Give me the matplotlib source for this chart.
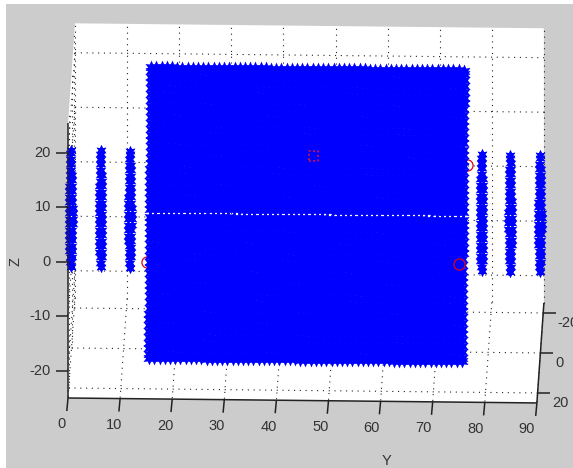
import numpy as np
import matplotlib
matplotlib.use("Agg")
import matplotlib.pyplot as plt
from matplotlib.patches import Polygon, Rectangle

plt.rcParams['font.family'] = ['Liberation Sans', 'DejaVu Sans']

# axis ranges and ticks
y_lim = [0, 90]
x_lim = [-25, 25]
z_lim = [-25, 25.4]
y_ticks = [0, 10, 20, 30, 40, 50, 60, 70, 80, 90]
z_ticks = [-20, -10, 0, 10, 20]
x_ticks = [-20, 0, 20]

# big block of points (columns along Y, rows as z / x pairs)
cloud_y = [15.1, 16.1, 17.1, 18.1, 19.1, 20.1, 21.1, 22.1, 23.1, 24.1, 25.1, 26.1, 27.1, 28.1, 29.1, 30.1,
           31.1, 32.1, 33.1, 34.1, 35.1, 36.1, 37.1, 38.1, 39.1, 40.1, 41.1, 42.1, 43.1, 44.1, 45.1, 46.1,
           47.1, 48.1, 49.1, 50.1, 51.1, 52.1, 53.1, 54.1, 55.1, 56.1, 57.1, 58.1, 59.1, 60.1, 61.1, 62.1,
           63.1, 64.1, 65.1, 66.1, 67.1, 68.1, 69.1, 70.1, 71.1, 72.1, 73.1, 74.1, 75.1]
cloud_z_up = [0.67, 1.5, 2.4, 3.4, 4.3, 5.3, 6.2, 7.2, 8.2, 9.1, 10.1, 11.0, 12.0, 12.9, 13.9, 14.9,
              15.8, 16.8, 17.7, 18.7, 19.6, 20.6, 21.6, 22.5, 23.5, 24.1]
cloud_x_up = [-0.2, -0.4, -0.7, -1.0, -1.2, -1.5, -1.8, -2.1, -2.4, -2.6, -2.9, -3.2, -3.5, -3.7, -4.0, -4.3,
              -4.6, -4.9, -5.1, -5.4, -5.7, -6.0, -6.3, -6.5, -6.8, -7.0]

# six thin stripes either side of the block
stripe_y = [0.45, 6.2, 11.8, 79.3, 84.8, 90.5]
stripe_z = [19.6, 19.0, 18.0, 17.0, 16.0, 15.0, 14.0, 13.0, 12.0, 11.0, 10.0, 9.0, 8.0, 7.0, 6.0,
            5.0, 4.0, 3.0, 2.0, 1.0, 0.0, -1.0, -1.9]
stripe_w = [0.0, 0.05, 0.1, 0.15, 0.15, 0.2, 0.2, 0.25, 0.25, 0.3, 0.3, 0.35, 0.35, 0.35, 0.35,
            0.3, 0.3, 0.3, 0.25, 0.25, 0.2, 0.1, 0.0]
stripe_x = 22.5

# red markers
circle_front_y = [74.4]
circle_front_z = [-8.8]
circle_back_y = [14.5, 75.9]
circle_back_z = [-9.1, 9.3]
square_y = [46.5]
square_z = [10.7]


def proj(y, x, z):
    y = np.asarray(y, dtype=float)
    x = np.asarray(x, dtype=float)
    z = np.asarray(z, dtype=float)
    sx = 68 + 5.21 * y + 0.14 * (25 - x)
    sy = 398 - 5.45 * (z + 25) - 2.0 * (25 - x) + 0.055 * y
    return sx, sy


fig = plt.figure(figsize=(5.73, 4.68), dpi=100, facecolor='white')
ax = fig.add_axes([0, 0, 1, 1])
ax.set_xlim(0, 573)
ax.set_ylim(468, 0)
ax.axis('off')

ax.add_patch(Rectangle((6, 4), 567, 464, fc='#cccccc', ec='none', zorder=0))

# white box faces
corners = [(0, -25, 25.4), (90, -25, 25.4), (90, -25, -25), (90, 25, -25), (0, 25, -25), (0, 25, 25.4)]
ax.add_patch(Polygon([tuple(float(v) for v in proj(*c)) for c in corners], fc='white', ec='none', zorder=1))

# dotted grid
dots = dict(color='#222222', lw=0.8, linestyle=(0, (1, 4.2)), zorder=2)
for v in y_ticks:
    ax.plot(*proj([v, v], [-25, -25], z_lim), **dots)
    ax.plot(*proj([v, v], x_lim, [-25, -25]), **dots)
for v in z_ticks:
    ax.plot(*proj(y_lim, [-25, -25], [v, v]), **dots)
    ax.plot(*proj([0, 0], x_lim, [v, v]), **dots)
for v in x_ticks:
    ax.plot(*proj(y_lim, [v, v], [-25, -25]), **dots)
    ax.plot(*proj([0, 0], [v, v], z_lim), **dots)

# red circles partly hidden by the block
ax.plot(*proj(circle_back_y, [0, 0], circle_back_z), 'o', mfc='none', mec='#e00020', ms=8, mew=0.9, zorder=3)

# block
cloud_z = cloud_z_up + [-v for v in cloud_z_up]
cloud_x = cloud_x_up + [-v for v in cloud_x_up]
for z, x in zip(cloud_z, cloud_x):
    sx, sy = proj(cloud_y, [x] * len(cloud_y), [z] * len(cloud_y))
    ax.plot(sx, sy, ls='none', marker=(6, 1, 0), ms=10, color='#0000ff', mew=0, zorder=4)

# stripes
for y0 in stripe_y:
    for z, w in zip(stripe_z, stripe_w):
        sx, sy = proj([y0 - w, y0 + w], [stripe_x, stripe_x], [z, z])
        ax.plot(sx, sy, ls='none', marker=(6, 1, 0), ms=8, color='#0000ff', mew=0, zorder=4)

# red marks on top
ax.plot(*proj(circle_front_y, [0], circle_front_z), 'o', mfc='none', mec='#e00020', ms=8, mew=0.9, zorder=5)
sx, sy = proj(square_y, [0], square_z)
ax.scatter(sx, sy, marker='s', s=45, facecolors='none', edgecolors='#ff1020', linewidths=1.2, linestyles=':', zorder=5)

# axis lines
line = dict(color='#222222', lw=1.1, zorder=6, solid_capstyle='butt')
ax.plot(*proj([0, 0], [25, 25], z_lim), **line)
ax.plot(*proj(y_lim, [25, 25], [-25, -25]), **line)
ax.plot(*proj([90, 90], x_lim, [-25, -25]), **line)

# ticks and labels
txt = dict(color='#333333', fontsize=10.5, zorder=7)
for v in y_ticks:
    sx, sy = proj(v, 25, -25)
    ax.plot([sx, sx - 1.2], [sy, sy + 13], **line)
    ax.text(sx - 6 - 0.045 * v, sy + 26.5, str(v), ha='center', va='center', **txt)
for v in z_ticks:
    sx, sy = proj(0, 25, v)
    ax.plot([sx, sx - 12], [sy, sy], **line)
    ax.text(sx - 17, sy, str(v), ha='right', va='center', **txt)
for v in x_ticks:
    sx, sy = proj(90, v, -25)
    ax.plot([sx, sx + 12.5], [sy, sy], **line)
    ax.text(sx + 14.5, sy + 10, str(v), ha='left', va='center', **txt)

ax.text(16, 261, 'Z', rotation=90, ha='center', va='center', **txt)
ax.text(387, 461, 'Y', ha='center', va='center', **txt)

fig.savefig('out.png', dpi=100)
